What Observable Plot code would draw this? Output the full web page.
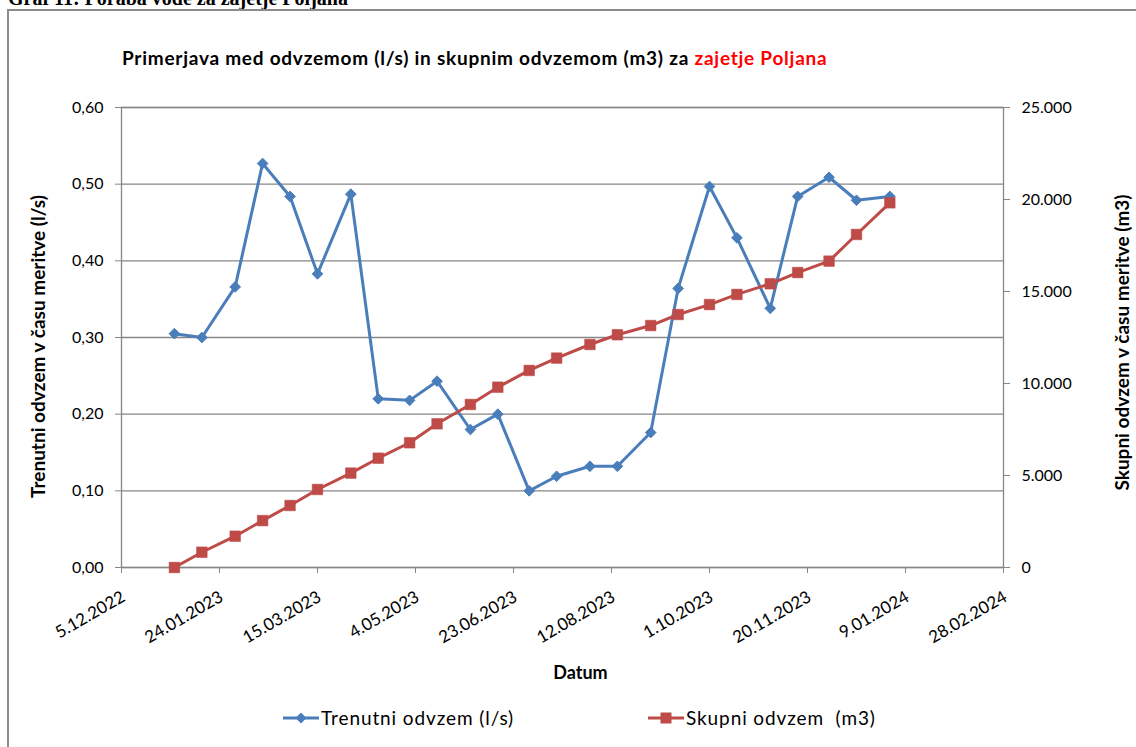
<!DOCTYPE html>
<html>
<head>
<meta charset="utf-8">
<script src="https://cdn.jsdelivr.net/npm/d3@7"></script>
<script src="https://cdn.jsdelivr.net/npm/@observablehq/plot@0.6"></script>
<style>
  html, body { margin:0; padding:0; width:1136px; height:747px; overflow:hidden; background:#fff; }
  body { position:relative; font-family: Lato, "Noto Sans", sans-serif; }
  #header { position:absolute; left:8px; top:-12px; font-family:"Liberation Serif","DejaVu Serif",serif; font-weight:bold; font-size:20px; line-height:20px; white-space:nowrap; color:#000; }
  #box { position:absolute; left:7px; top:9px; width:1200px; height:800px; border:2px solid #8c8c8c; box-sizing:border-box; }
  #title { position:absolute; left:122px; top:47px; font-weight:bold; font-size:19px; letter-spacing:0.75px; line-height:22px; white-space:nowrap; color:#000; }
  #title .red { color:#ff0000; }
  #chart { position:absolute; left:0; top:75px; }
  .leg { position:absolute; top:706px; font-size:19px; letter-spacing:0.9px; line-height:24px; white-space:nowrap; color:#000; display:flex; align-items:center; }
  .leg svg { display:block; margin-right:2px; }
</style>
</head>
<body>
<div id="header">Graf 11: Poraba vode za zajetje Poljana</div>
<div id="box"></div>
<div id="title">Primerjava med odvzemom (l/s) in skupnim odvzemom (m3) za <span class="red">zajetje Poljana</span></div>
<div id="chart"></div>
<div class="leg" id="leg1"></div>
<div class="leg" id="leg2"></div>
<script>
// ---- data ----
const dates = ["2023-01-01","2023-01-15","2023-02-01","2023-02-15","2023-03-01","2023-03-15","2023-04-01","2023-04-15","2023-05-01","2023-05-15","2023-06-01","2023-06-15","2023-07-01","2023-07-15","2023-08-01","2023-08-15","2023-09-01","2023-09-15","2023-10-01","2023-10-15","2023-11-01","2023-11-15","2023-12-01","2023-12-15","2024-01-01"];
const flow = [0.305,0.300,0.366,0.527,0.484,0.383,0.487,0.220,0.218,0.243,0.180,0.200,0.100,0.119,0.132,0.132,0.176,0.364,0.497,0.430,0.338,0.484,0.509,0.479,0.484];
const total = [0,830,1700,2550,3370,4240,5130,5940,6780,7810,8860,9800,10710,11380,12120,12650,13150,13750,14290,14840,15420,16030,16650,18100,19820];
const xTickLabels = ["5.12.2022","24.01.2023","15.03.2023","4.05.2023","23.06.2023","12.08.2023","1.10.2023","20.11.2023","9.01.2024","28.02.2024"];
const leftTicks = [0,0.1,0.2,0.3,0.4,0.5,0.6];
const rightTicks = [0,5000,10000,15000,20000,25000];
const seriesNames = ["Trenutni odvzem (l/s)", "Skupni odvzem\u00a0\u00a0(m3)"];
const leftLabel = "Trenutni odvzem v času meritve (l/s)";
const rightLabel = "Skupni odvzem v času meritve (m3)";
const xLabel = "Datum";
const blue = "#4a7ebb", red = "#be4b48";

// ---- helpers ----
const parseDMY = s => { const [d,m,y] = s.split(".").map(Number); return new Date(Date.UTC(y, m-1, d)); };
const xTicks = xTickLabels.map(parseDMY);
const labelByTime = new Map(xTicks.map((d,i)=>[+d, xTickLabels[i]]));
const loc = d3.formatLocale({decimal:",", thousands:".", grouping:[3], currency:["",""]});
const fmtLeft = loc.format(".2f");
const fmtRight = loc.format(",.0f");
const k = 0.6 / 25000; // right-axis value -> left-axis units

const data = dates.map((d,i)=>({date: new Date(d + "T00:00:00Z"), flow: flow[i], total: total[i]}));

const chart = Plot.plot({
  width: 1136, height: 620,
  marginTop: 32, marginBottom: 128, marginLeft: 121, marginRight: 133,
  style: {fontFamily: "Lato, 'Noto Sans', sans-serif", fontSize: "16px", color: "#000", background: "transparent", overflow: "visible"},
  x: {type: "utc", domain: [xTicks[0], xTicks[xTicks.length-1]]},
  y: {domain: [0, 0.6]},
  marks: [
    Plot.gridY(leftTicks, {stroke: "#868686", strokeOpacity: 1, strokeWidth: 1.3}),
    Plot.frame({stroke: "#868686", strokeWidth: 1.3}),
    Plot.axisY(leftTicks, {anchor: "left", tickSize: 6, tickPadding: 12, tickFormat: fmtLeft, stroke: "#868686", fill: "#000", label: null}),
    Plot.axisY(rightTicks.map(v => v*k), {anchor: "right", tickSize: 6, tickPadding: 12, tickFormat: d => fmtRight(Math.round(d/k)), stroke: "#868686", fill: "#000", label: null}),
    Plot.axisX(xTicks, {tickSize: 6, tickFormat: () => "", stroke: "#868686", label: null}),
    Plot.text(xTicks, {x: d => d, frameAnchor: "bottom", text: d => labelByTime.get(+d), rotate: -30, textAnchor: "end", lineAnchor: "middle", dx: 2, dy: 28, fontSize: 17, fill: "#000"}),
    Plot.text([leftLabel], {frameAnchor: "left", rotate: -90, textAnchor: "middle", lineAnchor: "middle", dx: -83, dy: 9, text: d => d, fontWeight: "bold", fontSize: 19, letterSpacing: 0.7, fill: "#000"}),
    Plot.text([rightLabel], {frameAnchor: "right", rotate: -90, textAnchor: "middle", lineAnchor: "middle", dx: 119, dy: 5, text: d => d, fontWeight: "bold", fontSize: 19, letterSpacing: 1.5, fill: "#000"}),
    Plot.text([xLabel], {frameAnchor: "bottom", textAnchor: "middle", lineAnchor: "middle", dx: 18, dy: 106, text: d => d, fontWeight: "bold", fontSize: 18, fill: "#000"}),
    Plot.line(data, {x: "date", y: "flow", stroke: blue, strokeWidth: 3}),
    Plot.dot(data, {x: "date", y: "flow", symbol: "diamond2", r: 4.8, fill: blue, stroke: blue, strokeWidth: 1}),
    Plot.line(data, {x: "date", y: d => d.total * k, stroke: red, strokeWidth: 3}),
    Plot.dot(data, {x: "date", y: d => d.total * k, symbol: "square", r: 6, fill: red, stroke: red, strokeWidth: 0.5})
  ]
});
document.getElementById("chart").appendChild(chart);

// ---- legend ----
function swatch(color, kind) {
  const s = d3.create("svg").attr("width", 36).attr("height", 14);
  s.append("line").attr("x1", 0).attr("x2", 36).attr("y1", 7).attr("y2", 7).attr("stroke", color).attr("stroke-width", 3);
  if (kind === "diamond") s.append("path").attr("d", "M18,1.5L23.5,7L18,12.5L12.5,7Z").attr("fill", color);
  else s.append("rect").attr("x", 12.5).attr("y", 1.5).attr("width", 11).attr("height", 11).attr("fill", color);
  return s.node();
}
const l1 = document.getElementById("leg1"), l2 = document.getElementById("leg2");
l1.style.left = "283px"; l2.style.left = "648px";
l1.appendChild(swatch(blue, "diamond")); l1.appendChild(document.createTextNode(seriesNames[0]));
l2.appendChild(swatch(red, "square")); l2.appendChild(document.createTextNode(seriesNames[1]));
</script>
</body>
</html>
